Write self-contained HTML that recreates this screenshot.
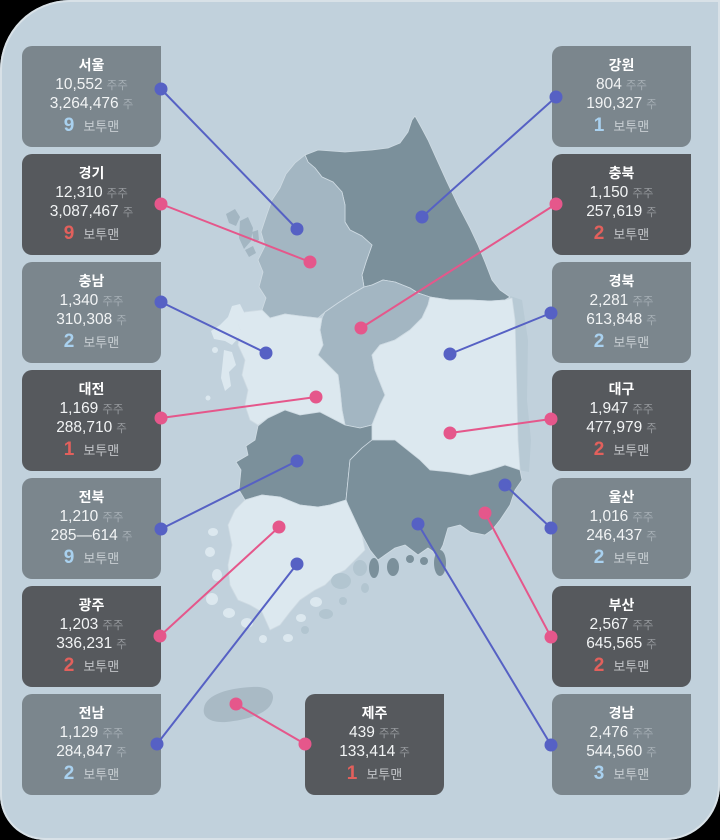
<!DOCTYPE html>
<html><head><meta charset="utf-8"><style>
html,body{margin:0;padding:0;background:#000;width:720px;height:840px;overflow:hidden}
body{font-family:"Liberation Sans","Noto Sans CJK KR",sans-serif}
#frame{position:absolute;left:0;top:0;width:720px;height:840px;border-radius:70px 0 55px 45px;background:#c1d1dc;overflow:hidden;box-shadow:inset 0 0 0 2px #d8e1e7}
svg{position:absolute;left:0;top:0}
.card{position:absolute;width:139px;height:101px;border-radius:10px 0 10px 10px;text-align:center;color:#f2f4f5;white-space:nowrap}
.lt{background:#7b868d}
.dk{background:#56595d}
.card div{position:absolute;left:0;right:0}
.t{top:10px;font-size:14px;font-weight:bold;line-height:18px;color:#fff}
.a{top:30px;font-size:15.5px;line-height:18px}
.b{top:49px;font-size:15.5px;line-height:18px}
.c{top:69px;line-height:22px;font-size:13px}
.u{font-size:11.5px;margin-left:4px}
.lt .u{color:#a6afb5}
.dk .u{color:#96999d}
.n{font-size:19px;font-weight:bold;margin-right:9px}
.lt .n{color:#a9d1ef}
.dk .n{color:#e2605c}
.lt .w{color:#c8cfd3}
.dk .w{color:#c2c5c8}
</style></head><body>
<div id="frame">
<svg width="720" height="840" viewBox="0 0 720 840">
<g stroke="#cfdbe3" stroke-width="0.8" stroke-linejoin="round">
<path d="M510,296 L522,300 L528,340 L527,400 L531,440 L529,472 L518,470 Z" fill="#b8cad5" stroke="none"/>
<path fill="#7b909b" d="M305,155 L318,150 L345,152 L372,150 L388,148 L400,143 L408,132 L412,120 L415,116 L420,125 L428,140 L437,160 L447,182 L458,205 L470,228 L478,245 L485,262 L492,280 L500,290 L510,297 L505,300 L490,301 L470,300 L450,300 L430,297 L418,293 L410,288 L395,282 L383,280 L372,285 L364,287 L362,275 L366,262 L372,245 L362,236 L350,230 L345,222 L345,205 L342,192 L333,182 L322,177 L315,168 L308,162 Z"/>
<path fill="#a3b6c2" d="M305,155 L308,162 L315,168 L322,177 L333,182 L342,192 L345,205 L345,222 L350,230 L362,236 L372,245 L366,262 L362,275 L364,287 L352,294 L338,303 L325,312 L318,318 L300,316 L285,314 L270,318 L262,310 L266,298 L259,287 L263,272 L258,260 L265,246 L261,232 L267,214 L272,200 L280,188 L286,174 L295,163 Z"/>
<path fill="#a3b6c2" stroke="none" d="M226,214 L235,209 L240,217 L236,226 L229,223 Z M240,221 L248,217 L253,228 L251,241 L244,249 L239,238 Z M245,250 L253,246 L256,253 L249,257 Z M252,232 L258,230 L259,240 L254,242 Z"/>
<path fill="#a3b6c2" d="M364,287 L372,285 L383,280 L395,282 L410,288 L418,293 L430,297 L428,305 L422,318 L410,330 L395,340 L380,345 L372,355 L375,370 L385,395 L380,405 L372,425 L360,428 L345,425 L342,410 L340,390 L338,375 L328,365 L318,355 L323,345 L320,330 L322,318 L325,312 L338,303 L352,294 Z"/>
<path fill="#dce8ef" d="M262,310 L270,318 L285,314 L300,316 L318,318 L322,318 L320,330 L323,345 L318,355 L328,365 L338,375 L340,390 L342,410 L345,425 L320,412 L300,415 L285,410 L268,418 L258,425 L250,420 L245,405 L248,390 L242,375 L245,360 L238,345 L240,330 L235,318 L245,312 Z"/>
<path fill="#dce8ef" stroke="none" d="M232,306 L240,304 L245,314 L238,324 L242,334 L232,345 L225,341 L214,339 L211,331 L220,325 L228,317 Z M224,350 L232,352 L236,365 L229,372 L231,386 L225,391 L221,378 Z"/>
<g fill="#dce8ef" stroke="none">
<ellipse cx="215" cy="350" rx="3" ry="3"/><ellipse cx="208" cy="398" rx="2.5" ry="2.5"/>
</g>
<path fill="#dce8ef" d="M372,440 L372,425 L380,405 L385,395 L375,370 L372,355 L380,345 L395,340 L410,330 L422,318 L428,305 L430,297 L450,300 L470,300 L490,301 L505,300 L512,298 L515,320 L516,360 L517,400 L518,440 L520,470 L505,465 L490,470 L470,475 L450,472 L430,470 L420,460 L405,448 L395,440 L380,440 Z"/>
<path fill="#7b909b" d="M258,426 L268,418 L285,410 L300,415 L320,412 L345,425 L360,428 L372,425 L372,440 L362,448 L350,460 L348,480 L346,500 L330,505 L318,507 L300,505 L280,497 L262,495 L245,500 L239,490 L241,470 L236,462 L248,455 L246,446 L255,440 Z"/>
<path fill="#7b909b" d="M372,440 L380,440 L395,440 L405,448 L420,460 L430,470 L450,472 L470,475 L490,470 L505,465 L520,470 L522,480 L515,490 L510,505 L500,520 L492,530 L485,535 L470,532 L460,525 L448,528 L443,545 L438,555 L428,548 L418,555 L405,545 L395,548 L385,555 L378,560 L370,550 L362,535 L355,520 L348,505 L346,500 L348,480 L350,460 L362,448 Z"/>
<g fill="#7b909b" stroke="none">
<ellipse cx="374" cy="568" rx="5" ry="10"/><ellipse cx="393" cy="567" rx="6" ry="9"/><ellipse cx="440" cy="563" rx="6" ry="13"/><ellipse cx="410" cy="559" rx="4" ry="4"/><ellipse cx="424" cy="561" rx="4" ry="4"/>
</g>
<path fill="#dce8ef" d="M245,500 L262,495 L280,497 L300,505 L318,507 L330,505 L346,500 L348,505 L355,520 L362,535 L365,550 L355,560 L345,570 L335,575 L325,585 L315,590 L300,600 L290,612 L280,625 L270,630 L262,612 L250,605 L238,600 L230,585 L228,565 L232,545 L228,525 L235,510 Z"/>
<g fill="#dce8ef" stroke="none">
<ellipse cx="213" cy="532" rx="5" ry="4"/><ellipse cx="210" cy="552" rx="5" ry="5"/><ellipse cx="217" cy="575" rx="5" ry="6"/><ellipse cx="212" cy="599" rx="6" ry="6"/><ellipse cx="229" cy="613" rx="6" ry="5"/><ellipse cx="247" cy="623" rx="6" ry="5"/><ellipse cx="263" cy="639" rx="4" ry="4"/><ellipse cx="288" cy="638" rx="5" ry="4"/><ellipse cx="301" cy="618" rx="5" ry="4"/><ellipse cx="316" cy="602" rx="6" ry="5"/>
</g>
<g fill="#b2c5d0" stroke="none">
<ellipse cx="341" cy="581" rx="10" ry="8"/><ellipse cx="360" cy="568" rx="7" ry="8"/><ellipse cx="326" cy="614" rx="7" ry="5"/><ellipse cx="343" cy="601" rx="4" ry="4"/><ellipse cx="365" cy="588" rx="4" ry="5"/><ellipse cx="305" cy="630" rx="4" ry="4"/>
</g>
<path fill="#a9bac5" stroke="none" d="M204,708 C206,694 230,688 252,687 C268,686 276,692 272,702 C268,714 246,720 226,722 C210,723 202,717 204,708 Z"/>
</g>
</svg>

<div class="card lt" style="left:22px;top:46px"><div class="t">서울</div><div class="a">10,552<span class="u">주주</span></div><div class="b">3,264,476<span class="u">주</span></div><div class="c"><span class="n">9</span><span class="w">보투맨</span></div></div>
<div class="card dk" style="left:22px;top:154px"><div class="t">경기</div><div class="a">12,310<span class="u">주주</span></div><div class="b">3,087,467<span class="u">주</span></div><div class="c"><span class="n">9</span><span class="w">보투맨</span></div></div>
<div class="card lt" style="left:22px;top:262px"><div class="t">충남</div><div class="a">1,340<span class="u">주주</span></div><div class="b">310,308<span class="u">주</span></div><div class="c"><span class="n">2</span><span class="w">보투맨</span></div></div>
<div class="card dk" style="left:22px;top:370px"><div class="t">대전</div><div class="a">1,169<span class="u">주주</span></div><div class="b">288,710<span class="u">주</span></div><div class="c"><span class="n">1</span><span class="w">보투맨</span></div></div>
<div class="card lt" style="left:22px;top:478px"><div class="t">전북</div><div class="a">1,210<span class="u">주주</span></div><div class="b">285—614<span class="u">주</span></div><div class="c"><span class="n">9</span><span class="w">보투맨</span></div></div>
<div class="card dk" style="left:22px;top:586px"><div class="t">광주</div><div class="a">1,203<span class="u">주주</span></div><div class="b">336,231<span class="u">주</span></div><div class="c"><span class="n">2</span><span class="w">보투맨</span></div></div>
<div class="card lt" style="left:22px;top:694px"><div class="t">전남</div><div class="a">1,129<span class="u">주주</span></div><div class="b">284,847<span class="u">주</span></div><div class="c"><span class="n">2</span><span class="w">보투맨</span></div></div>

<div class="card lt" style="left:552px;top:46px"><div class="t">강원</div><div class="a">804<span class="u">주주</span></div><div class="b">190,327<span class="u">주</span></div><div class="c"><span class="n">1</span><span class="w">보투맨</span></div></div>
<div class="card dk" style="left:552px;top:154px"><div class="t">충북</div><div class="a">1,150<span class="u">주주</span></div><div class="b">257,619<span class="u">주</span></div><div class="c"><span class="n">2</span><span class="w">보투맨</span></div></div>
<div class="card lt" style="left:552px;top:262px"><div class="t">경북</div><div class="a">2,281<span class="u">주주</span></div><div class="b">613,848<span class="u">주</span></div><div class="c"><span class="n">2</span><span class="w">보투맨</span></div></div>
<div class="card dk" style="left:552px;top:370px"><div class="t">대구</div><div class="a">1,947<span class="u">주주</span></div><div class="b">477,979<span class="u">주</span></div><div class="c"><span class="n">2</span><span class="w">보투맨</span></div></div>
<div class="card lt" style="left:552px;top:478px"><div class="t">울산</div><div class="a">1,016<span class="u">주주</span></div><div class="b">246,437<span class="u">주</span></div><div class="c"><span class="n">2</span><span class="w">보투맨</span></div></div>
<div class="card dk" style="left:552px;top:586px"><div class="t">부산</div><div class="a">2,567<span class="u">주주</span></div><div class="b">645,565<span class="u">주</span></div><div class="c"><span class="n">2</span><span class="w">보투맨</span></div></div>
<div class="card lt" style="left:552px;top:694px"><div class="t">경남</div><div class="a">2,476<span class="u">주주</span></div><div class="b">544,560<span class="u">주</span></div><div class="c"><span class="n">3</span><span class="w">보투맨</span></div></div>

<div class="card dk" style="left:305px;top:694px"><div class="t">제주</div><div class="a">439<span class="u">주주</span></div><div class="b">133,414<span class="u">주</span></div><div class="c"><span class="n">1</span><span class="w">보투맨</span></div></div>

<svg width="720" height="840" viewBox="0 0 720 840">
<g stroke-width="2" stroke-linecap="round">
<g stroke="#5661c4" fill="#5661c4">
<line x1="161" y1="89" x2="297" y2="229"/><circle cx="161" cy="89" r="5.5"/><circle cx="297" cy="229" r="5.5"/>
<line x1="161" y1="302" x2="266" y2="353"/><circle cx="161" cy="302" r="5.5"/><circle cx="266" cy="353" r="5.5"/>
<line x1="161" y1="529" x2="297" y2="461"/><circle cx="161" cy="529" r="5.5"/><circle cx="297" cy="461" r="5.5"/>
<line x1="157" y1="744" x2="297" y2="564"/><circle cx="157" cy="744" r="5.5"/><circle cx="297" cy="564" r="5.5"/>
<line x1="556" y1="97" x2="422" y2="217"/><circle cx="556" cy="97" r="5.5"/><circle cx="422" cy="217" r="5.5"/>
<line x1="551" y1="313" x2="450" y2="354"/><circle cx="551" cy="313" r="5.5"/><circle cx="450" cy="354" r="5.5"/>
<line x1="551" y1="528" x2="505" y2="485"/><circle cx="551" cy="528" r="5.5"/><circle cx="505" cy="485" r="5.5"/>
<line x1="551" y1="745" x2="418" y2="524"/><circle cx="551" cy="745" r="5.5"/><circle cx="418" cy="524" r="5.5"/>
</g>
<g stroke="#e5578b" fill="#e5578b">
<line x1="161" y1="204" x2="310" y2="262"/><circle cx="161" cy="204" r="5.5"/><circle cx="310" cy="262" r="5.5"/>
<line x1="161" y1="418" x2="316" y2="397"/><circle cx="161" cy="418" r="5.5"/><circle cx="316" cy="397" r="5.5"/>
<line x1="160" y1="636" x2="279" y2="527"/><circle cx="160" cy="636" r="5.5"/><circle cx="279" cy="527" r="5.5"/>
<line x1="556" y1="204" x2="361" y2="328"/><circle cx="556" cy="204" r="5.5"/><circle cx="361" cy="328" r="5.5"/>
<line x1="551" y1="419" x2="450" y2="433"/><circle cx="551" cy="419" r="5.5"/><circle cx="450" cy="433" r="5.5"/>
<line x1="551" y1="637" x2="485" y2="513"/><circle cx="551" cy="637" r="5.5"/><circle cx="485" cy="513" r="5.5"/>
<line x1="305" y1="744" x2="236" y2="704"/><circle cx="305" cy="744" r="5.5"/><circle cx="236" cy="704" r="5.5"/>
</g>
</g>
</svg>
</div>
</body></html>
